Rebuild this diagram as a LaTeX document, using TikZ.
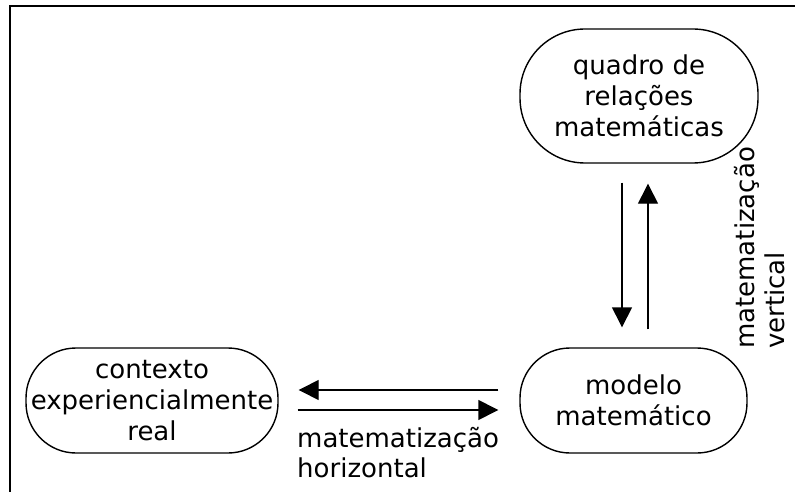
\documentclass[tikz,border=0pt]{standalone}
\usepackage{fontspec}
\setmainfont{DejaVu Sans}
\usetikzlibrary{arrows.meta}
\begin{document}
\begin{tikzpicture}[x=1pt,y=-1pt,
  box/.style={draw=black, line width=1.4pt, rounded corners=#1, align=center, inner sep=0pt,
    font=\fontsize{26}{31}\selectfont},
  arr/.style={line width=1.4pt, -{Triangle[length=20pt,width=20pt]}},
  lbl/.style={inner sep=0pt, align=left, font=\fontsize{26}{30}\selectfont}]
\useasboundingbox (0,0) rectangle (795,492);
\draw[line width=2pt] (10,492) -- (10,6) -- (795,6);
\node[box=65pt, minimum width=238pt, minimum height=134pt] (quadro) at (639,96) {quadro de\\relações\\matemáticas};
\node[box=50pt, minimum width=227pt, minimum height=105pt] (modelo) at (633.5,400.5) {modelo\\matemático};
\node[box=50pt, minimum width=252pt, minimum height=105pt] (contexto) at (152,400.5) {contexto\\experiencialmente\\real};
\coordinate (vd) at (622,0);
\coordinate (vu) at (648,0);
\coordinate (hl) at (0,390);
\coordinate (hr) at (0,410);
\draw[arr, shorten <=19pt, shorten >=20pt] (vd |- quadro.south) -- (vd |- modelo.north);
\draw[arr, shorten <=18pt, shorten >=20pt] (vu |- modelo.north) -- (vu |- quadro.south);
\draw[arr, shorten <=21pt, shorten >=20pt] (modelo.west |- hl) -- (contexto.east |- hl);
\draw[arr, shorten <=19pt, shorten >=21pt] (contexto.east |- hr) -- (modelo.west |- hr);
\node[lbl, anchor=north west] (hlab) at (297,427) {matematização\\horizontal};
\node[lbl, anchor=north west, rotate=90] (vlab) at (734,349) {matematização\\vertical};
\end{tikzpicture}
\end{document}
